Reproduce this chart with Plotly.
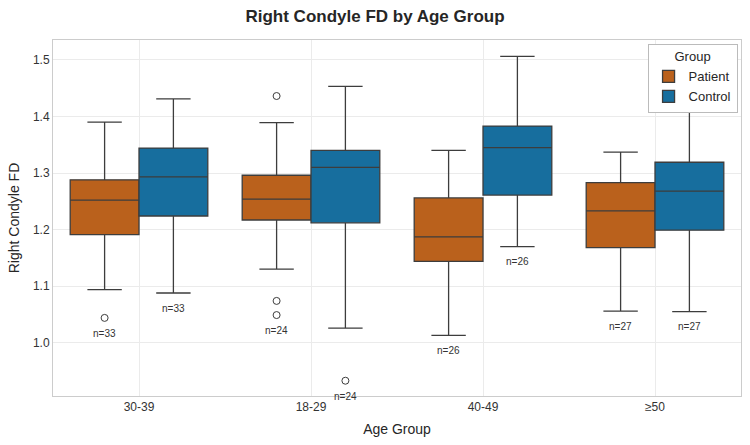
import plotly.graph_objects as go

categories = ["30-39", "18-29", "40-49", "≥50"]
groups = ["Patient", "Control"]

# precomputed box statistics
patient_q1 = [1.191, 1.217, 1.144, 1.168]
patient_med = [1.252, 1.254, 1.187, 1.233]
patient_q3 = [1.288, 1.296, 1.256, 1.283]
patient_lo = [1.094, 1.130, 1.013, 1.056]
patient_hi = [1.390, 1.389, 1.340, 1.337]
patient_n = [33, 24, 26, 27]
patient_outliers = [[1.044], [1.436, 1.074, 1.049], [], []]

control_q1 = [1.224, 1.212, 1.261, 1.199]
control_med = [1.293, 1.310, 1.345, 1.268]
control_q3 = [1.344, 1.340, 1.383, 1.319]
control_lo = [1.088, 1.026, 1.170, 1.055]
control_hi = [1.431, 1.453, 1.506, 1.419]
control_n = [33, 24, 26, 27]
control_outliers = [[], [0.933], [], []]

colors = {"Patient": "#BA611C", "Control": "#176E9E"}
offsets = {"Patient": -0.2, "Control": 0.2}
stats = {
    "Patient": (patient_q1, patient_med, patient_q3, patient_lo, patient_hi, patient_n, patient_outliers),
    "Control": (control_q1, control_med, control_q3, control_lo, control_hi, control_n, control_outliers),
}

fig = go.Figure()
annotations = []
for g in groups:
    q1, med, q3, lo, hi, n, outl = stats[g]
    xs = [i + offsets[g] for i in range(len(categories))]
    fig.add_trace(go.Box(
        x=xs, q1=q1, median=med, q3=q3, lowerfence=lo, upperfence=hi,
        name=g, width=0.4, whiskerwidth=0.5,
        fillcolor=colors[g], line=dict(color="#3d3d3d", width=1.3),
        boxpoints=False, showlegend=True,
    ))
    ox, oy = [], []
    for i, vals in enumerate(outl):
        for v in vals:
            ox.append(xs[i]); oy.append(v)
    if ox:
        fig.add_trace(go.Scatter(
            x=ox, y=oy, mode="markers", showlegend=False, hoverinfo="skip",
            marker=dict(symbol="circle-open", size=7, color="#3d3d3d", line=dict(width=1)),
        ))
    for i in range(len(categories)):
        mn = min([lo[i]] + outl[i])
        annotations.append(dict(
            x=xs[i], y=mn - 0.027, text=f"n={n[i]}", showarrow=False,
            font=dict(size=10, color="#333333"), xref="x", yref="y",
        ))

fig.update_layout(
    width=750, height=445,
    margin=dict(l=53, r=9, t=40, b=49),
    paper_bgcolor="white", plot_bgcolor="white",
    font=dict(family="Liberation Sans, Arial, sans-serif", color="#333333"),
    title=dict(text="<b>Right Condyle FD by Age Group</b>", x=0.5, xanchor="center",
               y=0.963, yanchor="middle", font=dict(size=17, color="#262626")),
    annotations=annotations,
    legend=dict(
        title=dict(text="Group", side="top center", font=dict(size=13, color="#262626")),
        x=0.995, xanchor="right", y=0.99, yanchor="top",
        bgcolor="white", bordercolor="#bbbbbb", borderwidth=1,
        font=dict(size=13, color="#262626"),
    ),
    xaxis=dict(
        tickmode="array", tickvals=list(range(len(categories))), ticktext=categories,
        range=[-0.5, len(categories) - 0.5], showgrid=True, gridcolor="#ebebeb",
        zeroline=False, showline=True, linecolor="#cccccc", mirror=True,
        title=dict(text="Age Group", font=dict(size=14, color="#262626"), standoff=10),
        tickfont=dict(size=12, color="#333333"), ticks="",
    ),
    yaxis=dict(
        range=[0.906, 1.535], tickvals=[1.0, 1.1, 1.2, 1.3, 1.4, 1.5],
        ticktext=["1.0", "1.1", "1.2", "1.3", "1.4", "1.5"],
        showgrid=True, gridcolor="#ebebeb", zeroline=False,
        showline=True, linecolor="#cccccc", mirror=True,
        title=dict(text="Right Condyle FD", font=dict(size=14, color="#262626"), standoff=10),
        tickfont=dict(size=12, color="#333333"), ticks="",
    ),
)

fig.write_html("out.html")
